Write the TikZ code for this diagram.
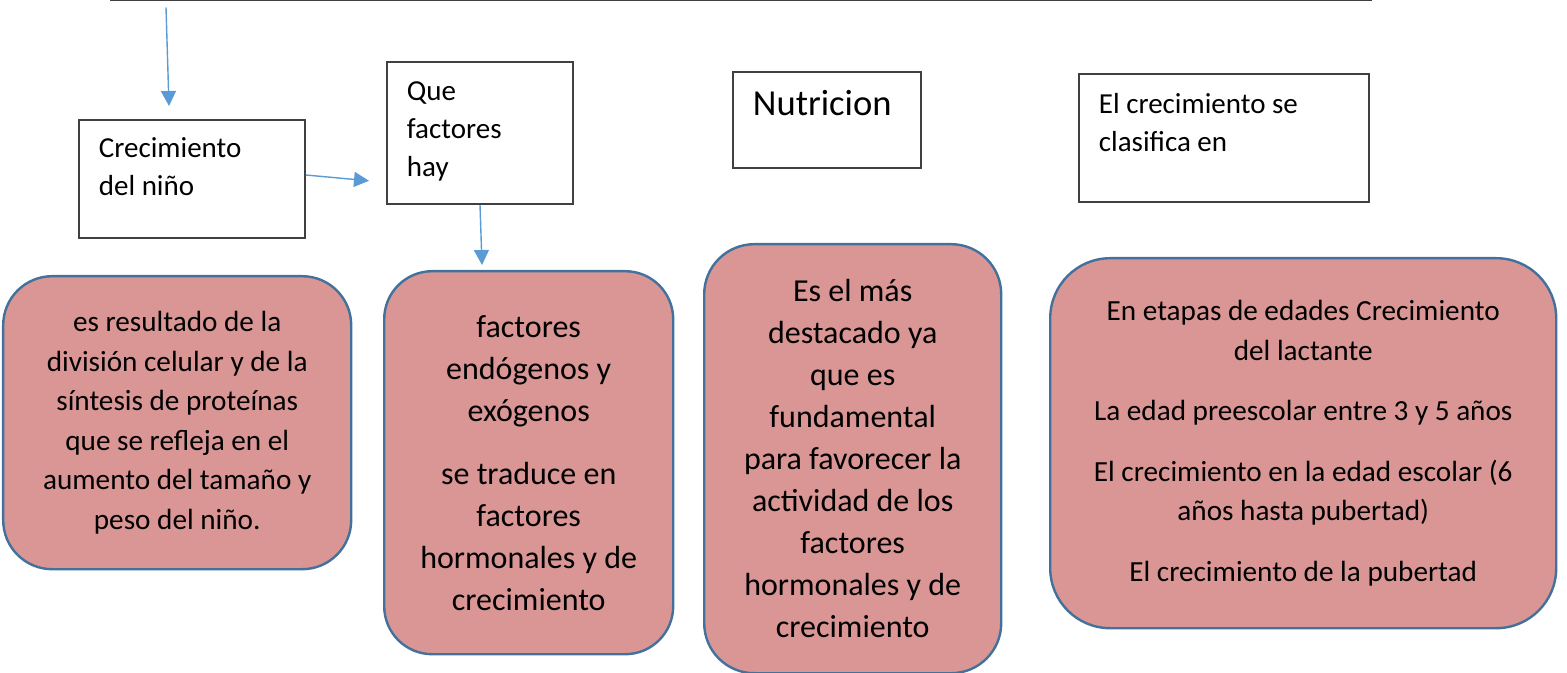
\documentclass[tikz,border=0pt]{standalone}
\usepackage{fontspec}
\setmainfont{Carlito}
\usetikzlibrary{arrows.meta}
\definecolor{rosa}{HTML}{D99694}
\definecolor{borde}{HTML}{41719C}
\definecolor{flechaazul}{HTML}{5B9BD5}
\definecolor{gris}{HTML}{404040}
% texto arriba a la izquierda dentro de una caja de alto fijo
\newcommand{\txtcaja}[4]{\parbox[c][#1][t]{#2}{\rule{0pt}{#3}#4}}

\begin{document}
\begin{tikzpicture}[x=0.5pt,y=-0.5pt,>={Triangle[length=7.5pt,width=7.5pt]},
  caja/.style={draw=gris,line width=0.9pt,anchor=north west,inner xsep=10pt,inner ysep=0pt,font=\fontsize{14.5}{19}\selectfont},
  globo/.style={draw=borde,fill=rosa,line width=1.2pt,anchor=north west,align=center,inner sep=0pt,font=\fontsize{14.6}{19.75}\selectfont},
  flecha/.style={->,draw=flechaazul,line width=0.7pt}]
\useasboundingbox (0,0) rectangle (1567,673);
\clip (0,0) rectangle (1567,673);

% cajas de arriba
\node[caja,anchor=south west,minimum width=630pt,minimum height=40pt,line width=1.1pt] (mapa) at (110,1.5) {};
\node[caja] (crec) at (78,119) {\txtcaja{59pt}{93pt}{19pt}{Crecimiento\\del niño}};
\node[caja] (factores) at (386,61) {\txtcaja{71pt}{73pt}{19.5pt}{Que\\factores\\hay}};
\node[caja,font=\fontsize{18.3}{22}\selectfont] (nutri) at (732,71) {\txtcaja{48pt}{74pt}{22pt}{Nutricion}};
\node[caja] (clasif) at (1078,73) {\txtcaja{64pt}{125pt}{20pt}{El crecimiento se\\clasifica en}};

% globos
\node[globo,minimum width=174pt,minimum height=146.5pt,rounded corners=24.5pt] (r_1) at (2,275)
  {es resultado de la\\división celular y de la\\síntesis de proteínas\\que se refleja en el\\aumento del tamaño y\\peso del niño.};
\node[globo,minimum width=144.5pt,minimum height=191.5pt,rounded corners=24pt,font=\fontsize{16}{21}\selectfont] (r_2) at (383,270)
  {factores\\endógenos y\\exógenos\\[10.5pt]se traduce en\\factores\\hormonales y de\\crecimiento};
\node[globo,minimum width=148.5pt,minimum height=214.5pt,rounded corners=25pt,font=\fontsize{16}{21}\selectfont] (r_3) at (703,243)
  {Es el más\\destacado ya\\que es\\fundamental\\para favorecer la\\actividad de los\\factores\\hormonales y de\\crecimiento};
\node[globo,minimum width=253pt,minimum height=185pt,rounded corners=30pt] (r_4) at (1049,257)
  {En etapas de edades Crecimiento\\del lactante\\[10.5pt]La edad preescolar entre 3 y 5 años\\[10.5pt]El crecimiento en la edad escolar (6\\años hasta pubertad)\\[10.5pt]El crecimiento de la pubertad};

% flechas
\draw[flecha] ([shift={(56,6)}]mapa.south west) -- ([shift={(91,-13)}]crec.north west);
\draw[flecha] ([shift={(0,56)}]crec.north east) -- ([shift={(-17,-24)}]factores.south west);
\draw[flecha] ([shift={(94,0)}]factores.south west) -- ([shift={(99,-5)}]r_2.north west);
\end{tikzpicture}
\end{document}
